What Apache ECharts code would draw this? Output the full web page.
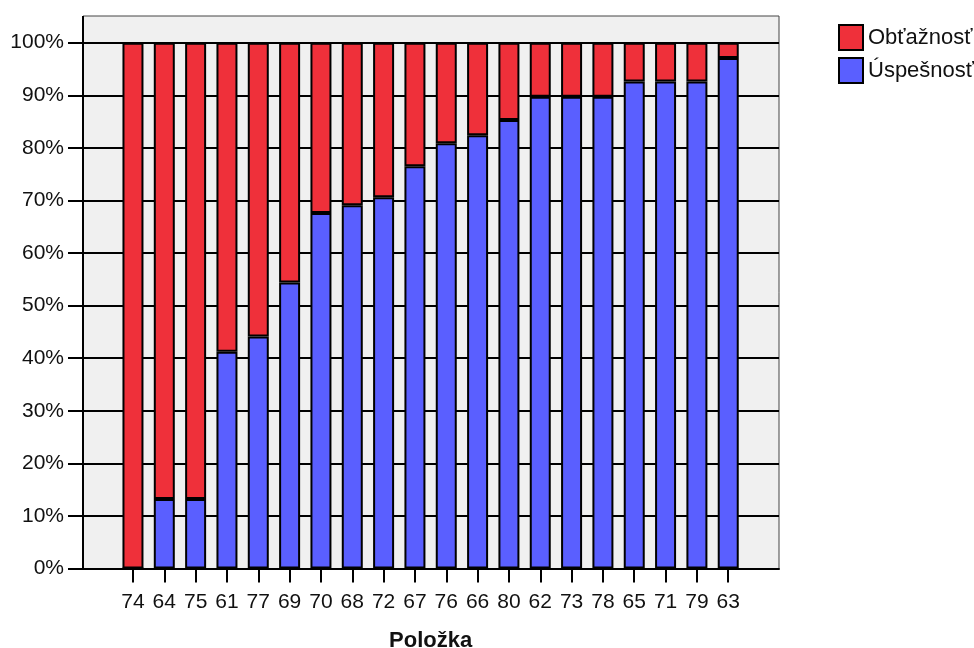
<!DOCTYPE html>
<html>
<head>
<meta charset="utf-8">
<script src="https://cdn.jsdelivr.net/npm/echarts@6/dist/echarts.min.js"></script>
<style>
html,body{margin:0;padding:0;background:#fff;}
#chart{width:974px;height:648px;}
</style>
</head>
<body>
<div id="chart"></div>
<script>
const categories = ['74','64','75','61','77','69','70','68','72','67','76','66','80','62','73','78','65','71','79','63'];
const uspesnost = [0,13.2,13.2,41.2,44.1,54.4,67.6,69.1,70.6,76.5,80.9,82.4,85.3,89.7,89.7,89.7,92.6,92.6,92.6,97.1];
const obtaznost = [100,86.8,86.8,58.8,55.9,45.6,32.4,30.9,29.4,23.5,19.1,17.6,14.7,10.3,10.3,10.3,7.4,7.4,7.4,2.9];

const FONT = '"Liberation Sans", Arial, sans-serif';
const chart = echarts.init(document.getElementById('chart'), null, {renderer:'canvas'});
const PLOT_L = 83, PLOT_R = 779, PLOT_TOP = 16, Y100 = 42.7, Y0 = 568.5;
const CAT_L = 117.3, CAT_W = 626.6;

chart.setOption({
  animation: false,
  backgroundColor: '#fff',
  textStyle: {fontFamily: FONT},
  legend: {
    orient: 'vertical',
    left: 833, top: 19,
    itemWidth: 24, itemHeight: 25, itemGap: 6,
    icon: 'rect',
    data: ['Obťažnosť','Úspešnosť'],
    textStyle: {fontSize: 22, color: '#111', fontFamily: FONT}
  },
  grid: [
    {left: PLOT_L, top: PLOT_TOP, width: PLOT_R-PLOT_L, height: Y0-PLOT_TOP, show: true,
     backgroundColor: '#F0F0F0', borderColor: '#444', borderWidth: 1,
     containLabel: false, outerBoundsMode: 'none'},
    {left: PLOT_L, top: Y100, width: PLOT_R-PLOT_L, height: Y0-Y100,
     containLabel: false, outerBoundsMode: 'none'},
    {left: CAT_L, top: Y100, width: CAT_W, height: Y0-Y100,
     containLabel: false, outerBoundsMode: 'none'}
  ],
  xAxis: [
    {gridIndex: 0, type: 'value', show: false},
    {gridIndex: 1, type: 'value', min: 0, max: 1,
     axisLine: {show: true, lineStyle: {color: '#000', width: 2}},
     axisTick: {show: false}, axisLabel: {show: false}, splitLine: {show: false}},
    {gridIndex: 2, type: 'category', data: categories,
     axisLine: {show: false},
     axisTick: {show: true, alignWithLabel: true, length: 14, lineStyle: {color: '#000', width: 2}},
     axisLabel: {fontSize: 21, color: '#111', margin: 23, fontFamily: FONT, interval: 0},
     name: 'Položka', nameLocation: 'middle', nameGap: 61,
     nameTextStyle: {fontSize: 22, fontWeight: 'bold', color: '#111', fontFamily: FONT}}
  ],
  yAxis: [
    {gridIndex: 0, type: 'value', show: false},
    {gridIndex: 1, type: 'value', min: 0, max: 100, interval: 10,
     axisLine: {show: true, lineStyle: {color: '#000', width: 2}},
     axisTick: {show: true, length: 15, lineStyle: {color: '#000', width: 2}},
     axisLabel: {fontSize: 21, color: '#111', margin: 19, fontFamily: FONT, formatter: '{value}%'},
     splitLine: {show: true, lineStyle: {color: '#000', width: 2}}},
    {gridIndex: 2, type: 'value', min: 0, max: 100, show: false}
  ],
  graphic: [{
    type: 'line', z: 10,
    shape: {x1: PLOT_L, y1: PLOT_TOP, x2: PLOT_L, y2: Y100},
    style: {stroke: '#000', lineWidth: 2}
  }],
  series: [
    {name: 'Úspešnosť', type: 'bar', stack: 'a', xAxisIndex: 2, yAxisIndex: 2,
     data: uspesnost, barWidth: 21,
     itemStyle: {color: '#5A5FFF', borderColor: '#000', borderWidth: 2}},
    {name: 'Obťažnosť', type: 'bar', stack: 'a', xAxisIndex: 2, yAxisIndex: 2,
     data: obtaznost, barWidth: 21,
     itemStyle: {color: '#EF303A', borderColor: '#000', borderWidth: 2}}
  ]
});
</script>
</body>
</html>
